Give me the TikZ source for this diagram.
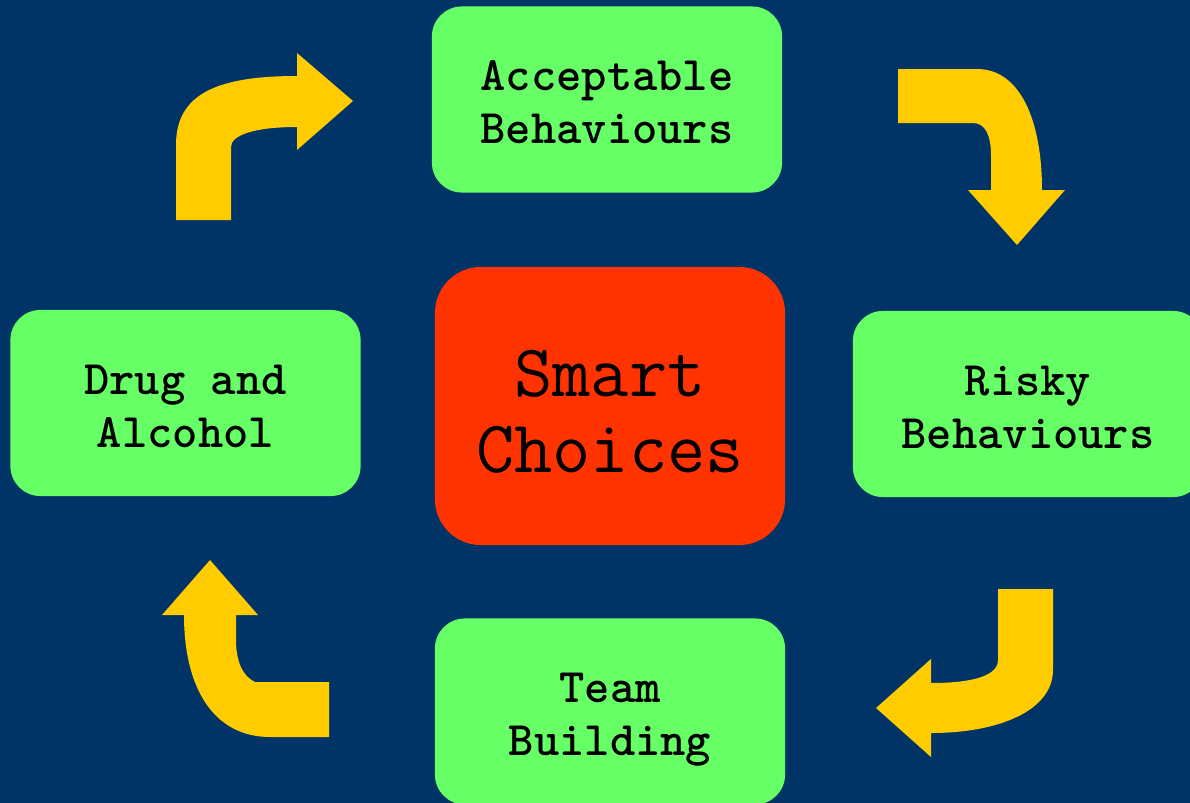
\documentclass[tikz,border=0pt]{standalone}
\usepackage{fontspec}

\definecolor{navy}{RGB}{0,51,102}
\definecolor{leaf}{RGB}{102,255,102}
\definecolor{flame}{RGB}{255,51,0}
\definecolor{gold}{RGB}{255,204,0}

% two centred lines with fixed top and bottom, so every box sets them alike
\newcommand{\boxlines}[3]{\rule{0pt}{#1}#2\\#3\rule[-3pt]{0pt}{3pt}}

\begin{document}
\begin{tikzpicture}[x=0.01cm,y=-0.01cm,
	topic/.style={fill=leaf,rounded corners=0.3cm,minimum width=3.5cm,minimum height=1.86cm,
		align=center,text=black,font=\ttfamily\bfseries\fontsize{13.7}{15.1}\selectfont},
	hub/.style={fill=flame,rounded corners=0.46cm,minimum width=3.5cm,minimum height=2.78cm,
		align=center,text=black,font=\ttfamily\fontsize{21.1}{21.6}\selectfont},
	bentarrow/.style={fill=gold,draw=none}]
	\fill[navy] (0,0) rectangle (1190,803);
	\useasboundingbox (0,0) rectangle (1190,803);

	% the four topics round the middle
	\node[topic] (accept) at (607,99.5) {\boxlines{13.1pt}{Acceptable}{Behaviours}};
	\node[topic] (risky) at (1028,404) {\boxlines{13.1pt}{Risky}{Behaviours}};
	\node[topic] (team) at (610,711.5) {\boxlines{13.1pt}{Team}{Building}};
	\node[topic] (drugs) at (185.5,403) {\boxlines{13.1pt}{Drug and}{Alcohol}};
	\node[hub] (smart) at (610,406) {\boxlines{19pt}{Smart}{Choices}};

	% bent arrows, clockwise
	\fill[bentarrow] (176,220) -- (176,145) .. controls (176,95) and (215,76) .. (297,76)
		-- (297,53) -- (353,101) -- (297,150) -- (297,127)
		.. controls (255,127) and (231,135) .. (231,147) -- (231,220) -- cycle;
	\fill[bentarrow] (898,69) -- (977,69) .. controls (1020,69) and (1042,120) .. (1042,190)
		-- (1065,190) -- (1017,245) -- (968,190) -- (991,190) -- (991,155)
		.. controls (991,135) and (985,123) .. (973,123) -- (898,123) -- cycle;
	\fill[bentarrow] (998,589) -- (1053,589) -- (1053,670) .. controls (1053,710) and (1000,733) .. (931,733)
		-- (931,757) -- (876,708) -- (931,659) -- (931,683)
		.. controls (975,683) and (998,675) .. (998,660) -- cycle;
	\fill[bentarrow] (329,682) -- (255,682) .. controls (242,676) and (236,660) .. (236,640)
		-- (236,615) -- (258,615) -- (210,560) -- (162,615) -- (184,615)
		.. controls (184,690) and (215,737) .. (270,737) -- (329,737) -- cycle;
\end{tikzpicture}
\end{document}
